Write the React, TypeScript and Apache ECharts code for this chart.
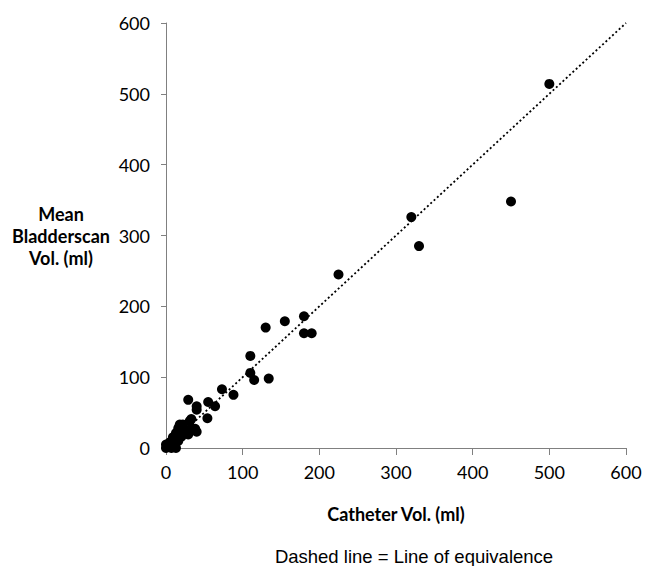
import React, { useEffect, useRef } from "react";
import * as echarts from "echarts";

const catheterVol: number[] = [0, 0, 3, 5, 7, 11, 13, 9, 13, 20, 16, 18, 22, 24, 29, 29, 31, 33, 38, 40, 33, 29, 40, 40, 55, 64, 54, 73, 88, 110, 110, 115, 134, 130, 155, 180, 180, 190, 225, 320, 330, 450, 500, 16, 10];
const bladderscanVol: number[] = [0, 5, 3, 8, 0, 7, 0, 15, 21, 16, 28, 33, 33, 26, 19, 24, 38, 28, 27, 23, 41, 68, 59, 54, 65, 59, 42, 83, 75, 130, 106, 96, 98, 170, 179, 186, 162, 162, 245, 326, 285, 348, 514, 10, 12];
const equivalenceLine: number[][] = [[0, 0], [600, 600]];
const tickValues: number[] = [0, 100, 200, 300, 400, 500, 600];

export default function App() {
  const ref = useRef<HTMLDivElement>(null);
  useEffect(() => {
    if (!ref.current) return;
    const chart = echarts.init(ref.current, null, { renderer: "svg" });
    const points = catheterVol.map((x, i) => [x, bladderscanVol[i]]);
    chart.setOption({
      animation: false,
      backgroundColor: "#ffffff",
      grid: { left: 166, right: 19, top: 23, bottom: 118, containLabel: false },
      xAxis: {
        type: "value",
        min: tickValues[0],
        max: tickValues[tickValues.length - 1],
        interval: 100,
        name: "Catheter Vol. (ml)",
        nameLocation: "middle",
        nameGap: 57,
        nameTextStyle: { fontFamily: "Lato", fontWeight: "bold", fontSize: 18, color: "#000" },
        axisLine: { show: true, lineStyle: { color: "#808080", width: 1 } },
        axisTick: { show: true, length: 7, lineStyle: { color: "#808080" } },
        axisLabel: { fontFamily: "Lato", fontSize: 18, color: "#000", margin: 15 },
        splitLine: { show: false },
      },
      yAxis: {
        type: "value",
        min: tickValues[0],
        max: tickValues[tickValues.length - 1],
        interval: 100,
        axisLine: { show: true, lineStyle: { color: "#808080", width: 1 } },
        axisTick: { show: true, length: 5, lineStyle: { color: "#808080" } },
        axisLabel: { fontFamily: "Lato", fontSize: 18, color: "#000", margin: 16 },
        splitLine: { show: false },
      },
      graphic: [
        {
          type: "text",
          x: 61,
          y: 236,
          style: {
            text: "Mean\nBladderscan\nVol. (ml)",
            fontFamily: "Lato",
            fontWeight: "bold",
            fontSize: 18,
            lineHeight: 22,
            fill: "#000",
            align: "center",
            verticalAlign: "middle",
          },
        },
        {
          type: "text",
          x: 414,
          y: 556,
          style: {
            text: "Dashed line = Line of equivalence",
            fontFamily: "Liberation Sans",
            fontSize: 18.5,
            fill: "#000",
            align: "center",
            verticalAlign: "middle",
          },
        },
      ],
      series: [
        {
          type: "line",
          data: equivalenceLine,
          showSymbol: false,
          symbol: "none",
          lineStyle: { color: "#000", width: 1.8, type: [2, 2.5] },
          silent: true,
          z: 1,
        },
        {
          type: "scatter",
          data: points,
          symbol: "circle",
          symbolSize: 10,
          itemStyle: { color: "#000", opacity: 1 },
          z: 2,
        },
      ],
    });
    return () => chart.dispose();
  }, []);
  return <div ref={ref} style={{ position: "fixed", left: 0, top: 0, width: 645, height: 566 }} />;
}
